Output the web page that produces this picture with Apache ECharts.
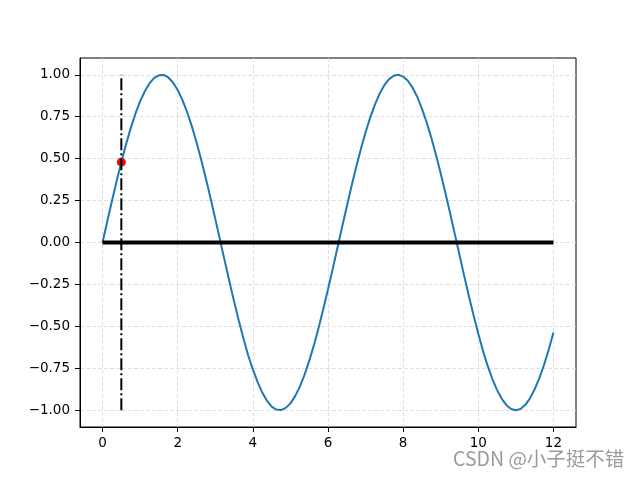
<!DOCTYPE html>
<html>
<head>
<meta charset="utf-8">
<script src="https://cdn.jsdelivr.net/npm/echarts@6/dist/echarts.min.js"></script>
<style>
  html, body { margin: 0; padding: 0; background: #fff; }
</style>
</head>
<body>
<div id="chart" style="width: 640px; height: 480px"></div>
<script>
// sine curve, sampled every 0.125 from the picture
const xs = [0, 0.125, 0.25, 0.375, 0.5, 0.625, 0.75, 0.875, 1, 1.125, 1.25, 1.375, 1.5, 1.625, 1.75, 1.875,
  2, 2.125, 2.25, 2.375, 2.5, 2.625, 2.75, 2.875, 3, 3.125, 3.25, 3.375, 3.5, 3.625, 3.75, 3.875,
  4, 4.125, 4.25, 4.375, 4.5, 4.625, 4.75, 4.875, 5, 5.125, 5.25, 5.375, 5.5, 5.625, 5.75, 5.875,
  6, 6.125, 6.25, 6.375, 6.5, 6.625, 6.75, 6.875, 7, 7.125, 7.25, 7.375, 7.5, 7.625, 7.75, 7.875,
  8, 8.125, 8.25, 8.375, 8.5, 8.625, 8.75, 8.875, 9, 9.125, 9.25, 9.375, 9.5, 9.625, 9.75, 9.875,
  10, 10.125, 10.25, 10.375, 10.5, 10.625, 10.75, 10.875, 11, 11.125, 11.25, 11.375, 11.5, 11.625, 11.75, 11.875, 12]
const ys = [0, 0.125, 0.247, 0.366, 0.479, 0.585, 0.682, 0.768, 0.841, 0.902, 0.949, 0.981, 0.997, 0.999, 0.984, 0.954,
  0.909, 0.85, 0.778, 0.694, 0.598, 0.493, 0.382, 0.264, 0.141, 0.017, -0.108, -0.231, -0.351, -0.465, -0.572, -0.672,
  -0.757, -0.831, -0.895, -0.943, -0.978, -0.996, -0.999, -0.986, -0.959, -0.916, -0.859, -0.789, -0.706, -0.612, -0.508, -0.396,
  -0.279, -0.158, -0.033, 0.092, 0.215, 0.335, 0.45, 0.558, 0.657, 0.746, 0.823, 0.888, 0.938, 0.974, 0.994, 1.0,
  0.989, 0.964, 0.923, 0.869, 0.798, 0.717, 0.624, 0.522, 0.412, 0.295, 0.174, 0.05, -0.075, -0.199, -0.32, -0.435,
  -0.544, -0.646, -0.736, -0.814, -0.88, -0.932, -0.97, -0.993, -1.0, -0.992, -0.968, -0.929, -0.875, -0.809, -0.729, -0.638, -0.537]

const hLineX = [0, 12]
const hLineY = [0, 0]
const vLineX = [0.5, 0.5]
const vLineY = [-1, 1]
const pointX = [0.5]
const pointY = [0.479]

const xTicks = [0, 2, 4, 6, 8, 10, 12]
const yTicks = [-1, -0.75, -0.5, -0.25, 0, 0.25, 0.5, 0.75, 1]

const zip = (a, b) => a.map((v, i) => [v, b[i]])

const myChart = echarts.init(document.getElementById('chart'))

const font = { fontFamily: 'DejaVu Sans', fontSize: 13.5, color: '#000' }
const gridLine = { show: true, lineStyle: { color: '#d9d9d9', type: [4, 2], width: 0.8 } }

const option = {
  animation: false,
  grid: {
    left: 80, right: 64, top: 58, bottom: 53,
    show: true, borderColor: '#000', borderWidth: 1
  },
  xAxis: {
    type: 'value',
    min: -0.6,
    max: 12.6,
    axisLine: { show: true, onZero: false, lineStyle: { color: '#000', width: 1 } },
    axisTick: { show: true, length: 5, customValues: xTicks, lineStyle: { color: '#000' } },
    axisLabel: { ...font, margin: 9, customValues: xTicks, formatter: v => String(v) },
    splitLine: gridLine
  },
  yAxis: {
    type: 'value',
    min: -1.1,
    max: 1.1,
    axisLine: { show: true, onZero: false, lineStyle: { color: '#000', width: 1 } },
    axisTick: { show: true, length: 5, customValues: yTicks, lineStyle: { color: '#000' } },
    axisLabel: {
      ...font, margin: 10, customValues: yTicks,
      formatter: v => v.toFixed(2).replace('-', '\u2212')
    },
    splitLine: gridLine
  },
  series: [
    {
      name: 'point',
      type: 'scatter',
      data: zip(pointX, pointY),
      symbolSize: 9,
      itemStyle: { color: '#ff0000', opacity: 1, borderWidth: 0 },
      z: 2
    },
    {
      name: 'sin',
      type: 'line',
      data: zip(xs, ys),
      showSymbol: false,
      lineStyle: { color: '#1f77b4', width: 2 },
      z: 3
    },
    {
      name: 'hline',
      type: 'line',
      data: zip(hLineX, hLineY),
      showSymbol: false,
      lineStyle: { color: '#000', width: 4 },
      z: 4
    },
    {
      name: 'vline',
      type: 'line',
      data: zip(vLineX, vLineY),
      showSymbol: false,
      lineStyle: { color: '#000', width: 2, type: [12, 3, 2, 3] },
      z: 5
    }
  ],
  graphic: [
    {
      type: 'text',
      left: 453,
      top: 449,
      style: {
        text: 'CSDN @小子挺不错',
        fontFamily: 'Noto Sans CJK SC',
        fontSize: 19.5,
        fill: '#9a9a9a'
      }
    }
  ]
}

myChart.setOption(option)
</script>
</body>
</html>
